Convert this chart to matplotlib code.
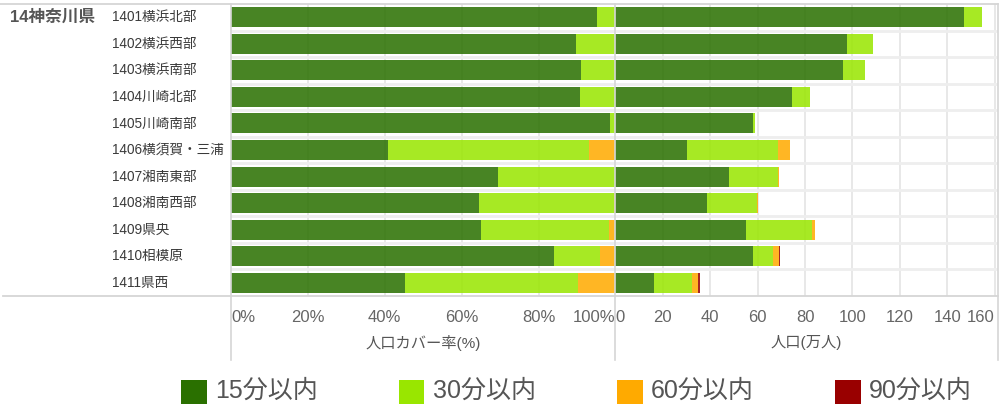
import matplotlib
matplotlib.use('Agg')
import matplotlib.pyplot as plt
from matplotlib import font_manager as fm
from matplotlib.lines import Line2D
from matplotlib.patches import Rectangle

# ---------------- data ----------------
prefecture = '14神奈川県'
regions = ['1401横浜北部', '1402横浜西部', '1403横浜南部', '1404川崎北部', '1405川崎南部',
           '1406横須賀・三浦', '1407湘南東部', '1408湘南西部', '1409県央', '1410相模原', '1411県西']
series = ['15分以内', '30分以内', '60分以内', '90分以内']
colors = ['#2a7000', '#99e600', '#ffaa00', '#990000']

# population cover rate (%)
pct15 = [95.2, 89.8, 91.1, 90.7, 98.7, 40.9, 69.5, 64.6, 65.1, 83.9, 45.3]
pct30 = [4.8, 10.2, 8.9, 9.3, 1.3, 52.3, 30.4, 35.1, 33.3, 12.2, 45.1]
pct60 = [0.0, 0.0, 0.0, 0.0, 0.0, 6.8, 0.1, 0.3, 1.6, 3.9, 9.6]
pct90 = [0.0, 0.0, 0.0, 0.0, 0.0, 0.0, 0.0, 0.0, 0.0, 0.0, 0.0]

# population (10,000 people)
pop15 = [147.0, 97.6, 95.9, 74.5, 58.2, 30.3, 47.9, 38.5, 55.0, 57.9, 16.3]
pop30 = [7.6, 11.0, 9.3, 7.6, 0.7, 38.2, 20.8, 21.4, 28.1, 8.6, 15.9]
pop60 = [0.0, 0.0, 0.0, 0.0, 0.0, 5.2, 0.3, 0.2, 1.1, 2.4, 2.8]
pop90 = [0.0, 0.0, 0.0, 0.0, 0.0, 0.0, 0.0, 0.0, 0.0, 0.5, 0.8]

pct_ticks = [0, 20, 40, 60, 80, 100]
pct_ticklabels = ['0%', '20%', '40%', '60%', '80%', '100%']
pop_ticks = [0, 20, 40, 60, 80, 100, 120, 140, 160]
pop_ticklabels = ['0', '20', '40', '60', '80', '100', '120', '140', '160']
xlabel_left = '人口カバー率(%)'
xlabel_right = '人口(万人)'

# ---------------- fonts ----------------
names = {f.name for f in fm.fontManager.ttflist}
latin = 'Liberation Sans Narrow' if 'Liberation Sans Narrow' in names else 'Liberation Sans'
FAM = [latin, 'Noto Sans CJK JP', 'DejaVu Sans']
plt.rcParams['font.family'] = FAM
NARROW = latin == 'Liberation Sans Narrow'

W, H = 1002, 404
fig = plt.figure(figsize=(W / 100, H / 100), dpi=100)


def fx(px):
    return px / W


def fy(py):
    return 1 - py / H


top, bot = 4, 296
row_h = (bot - top) / len(regions)
GRID = '#e6e6e6'
BORDER = '#d6d6d6'
TXT = '#555555'
tick_fs = 14 if NARROW else 12

axL = fig.add_axes([fx(231), fy(bot), fx(615.4) - fx(231), fy(top) - fy(bot)])
axR = fig.add_axes([fx(615.4), fy(bot), fx(997.7) - fx(615.4), fy(top) - fy(bot)])

ypos = list(range(len(regions)))


def draw(ax, s1, s2, s3, s4, xmax, ticks, labels):
    left = [0.0] * len(regions)
    for vals, c in zip([s1, s2, s3, s4], colors):
        ax.barh(ypos, vals, left=left, height=0.755, color=c, alpha=0.86,
                linewidth=0, zorder=3)
        left = [a + b for a, b in zip(left, vals)]
    ax.set_xlim(0, xmax)
    ax.set_ylim(len(regions) - 0.5, -0.5)
    for s in ax.spines.values():
        s.set_visible(False)
    ax.set_yticks([])
    for t in ticks:
        if 0 < t < 100 or (t >= 100 and xmax > 101 and t > 0):
            ax.axvline(t, color=GRID, lw=1.3, zorder=1)
    for k in range(len(regions) - 1):
        ax.axhline(k + 0.5, color='#eeeeee', lw=2.0, zorder=1)
    ax.set_xticks(ticks)
    ax.set_xticklabels(labels)
    ax.tick_params(axis='x', length=0, pad=10, labelsize=tick_fs, labelcolor='#666666')
    tl = ax.get_xticklabels()
    tl[0].set_ha('left')
    tl[-1].set_ha('right')


draw(axL, pct15, pct30, pct60, pct90, 100, pct_ticks, pct_ticklabels)
draw(axR, pop15, pop30, pop60, pop90, 161.3, pop_ticks, pop_ticklabels)

# pane borders
fig.add_artist(Line2D([fx(0), fx(998)], [fy(top), fy(top)], color=BORDER, lw=1.3))
fig.add_artist(Line2D([fx(3), fx(998)], [fy(bot), fy(bot)], color=BORDER, lw=1.3))
for xv in [231, 615.4, 997.7]:
    fig.add_artist(Line2D([fx(xv), fx(xv)], [fy(top), fy(360)], color=BORDER, lw=1.2))

# axis titles
fig.text(fx(423), fy(343), xlabel_left, ha='center', va='center', fontsize=11, color=TXT)
fig.text(fx(806), fy(343), xlabel_right, ha='center', va='center', fontsize=11, color=TXT)

# row labels
fig.text(fx(10), fy(17), prefecture, ha='left', va='center', fontsize=12,
         fontweight='bold', color=TXT)
for i, r in enumerate(regions):
    fig.text(fx(112), fy(top + (i + 0.5) * row_h), r, ha='left', va='center',
             fontsize=9.8, color='#3a3a3a')

# legend
sq_x = [181, 398.5, 617, 835]
for x0, c, lab in zip(sq_x, colors, series):
    fig.patches.append(Rectangle((fx(x0), fy(405.5)), 25.5 / W, 25 / H,
                                 transform=fig.transFigure, color=c, lw=0))
    fig.text(fx(x0 + 34), fy(391), lab, ha='left', va='center', fontsize=18, color=TXT)

fig.savefig('out.png', dpi=100)
